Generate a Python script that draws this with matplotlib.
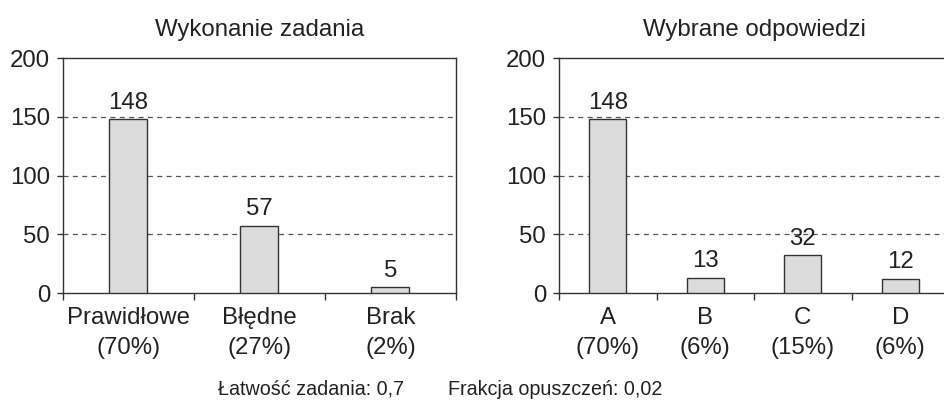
import matplotlib.pyplot as plt
import numpy as np

plt.rcParams["font.family"] = ["Liberation Sans", "DejaVu Sans"]

# left panel data
wyk_labels = ["Prawidłowe\n(70%)", "Błędne\n(27%)", "Brak\n(2%)"]
wyk_values = [148, 57, 5]

# right panel data
odp_labels = ["A\n(70%)", "B\n(6%)", "C\n(15%)", "D\n(6%)"]
odp_values = [148, 13, 32, 12]

titles = ["Wykonanie zadania", "Wybrane odpowiedzi"]
footer_left = "Łatwość zadania: 0,7"
footer_right = "Frakcja opuszczeń: 0,02"
yticks = [0, 50, 100, 150, 200]

fs = 17.3
txt = "#222222"
edge = "#333333"

fig = plt.figure(figsize=(9.44, 4.01), dpi=100)
ax1 = fig.add_axes([0.0667, 0.2693, 0.4163, 0.586])
ax2 = fig.add_axes([0.5922, 0.2693, 0.4131, 0.586])


def panel(ax, labels, values, title, width):
    x = np.arange(len(values))
    bars = ax.bar(x, values, width=width, color="#dcdcdc", edgecolor=edge,
                  linewidth=1.0, zorder=3)
    for b, v in zip(bars, values):
        ax.annotate(str(v), (b.get_x() + b.get_width() / 2, v),
                    xytext=(0, 4), textcoords="offset points",
                    ha="center", va="bottom", fontsize=fs, color=txt)
    ax.set_xlim(-0.5, len(values) - 0.5)
    ax.set_ylim(0, 200)
    ax.set_yticks(yticks)
    ax.set_yticklabels([str(t) for t in yticks], fontsize=fs, color=txt)
    for t in yticks[1:-1]:
        ax.axhline(t, color="#555555", linestyle=(0, (4, 3.5)), linewidth=0.9,
                   zorder=1)
    ax.set_xticks(x)
    ax.set_xticklabels(labels, fontsize=fs, color=txt, linespacing=1.45)
    ax.tick_params(axis="x", which="major", length=0, pad=10)
    ax.set_xticks(np.arange(len(values) + 1) - 0.5, minor=True)
    ax.tick_params(axis="x", which="minor", length=5, width=1.0, color=edge)
    ax.tick_params(axis="y", length=4.3, width=1.0, color=edge, pad=5)
    for s in ax.spines.values():
        s.set_color(edge)
        s.set_linewidth(1.0)
    ax.set_title(title, fontsize=fs, pad=16, color=txt)


panel(ax1, wyk_labels, wyk_values, titles[0], 0.29)
panel(ax2, odp_labels, odp_values, titles[1], 0.38)

fig.text(218 / 944, 0.015, footer_left, ha="left", va="baseline",
         fontsize=14.2, color=txt)
fig.text(448 / 944, 0.015, footer_right, ha="left", va="baseline",
         fontsize=14.2, color=txt)

fig.savefig("out.png", dpi=100)
